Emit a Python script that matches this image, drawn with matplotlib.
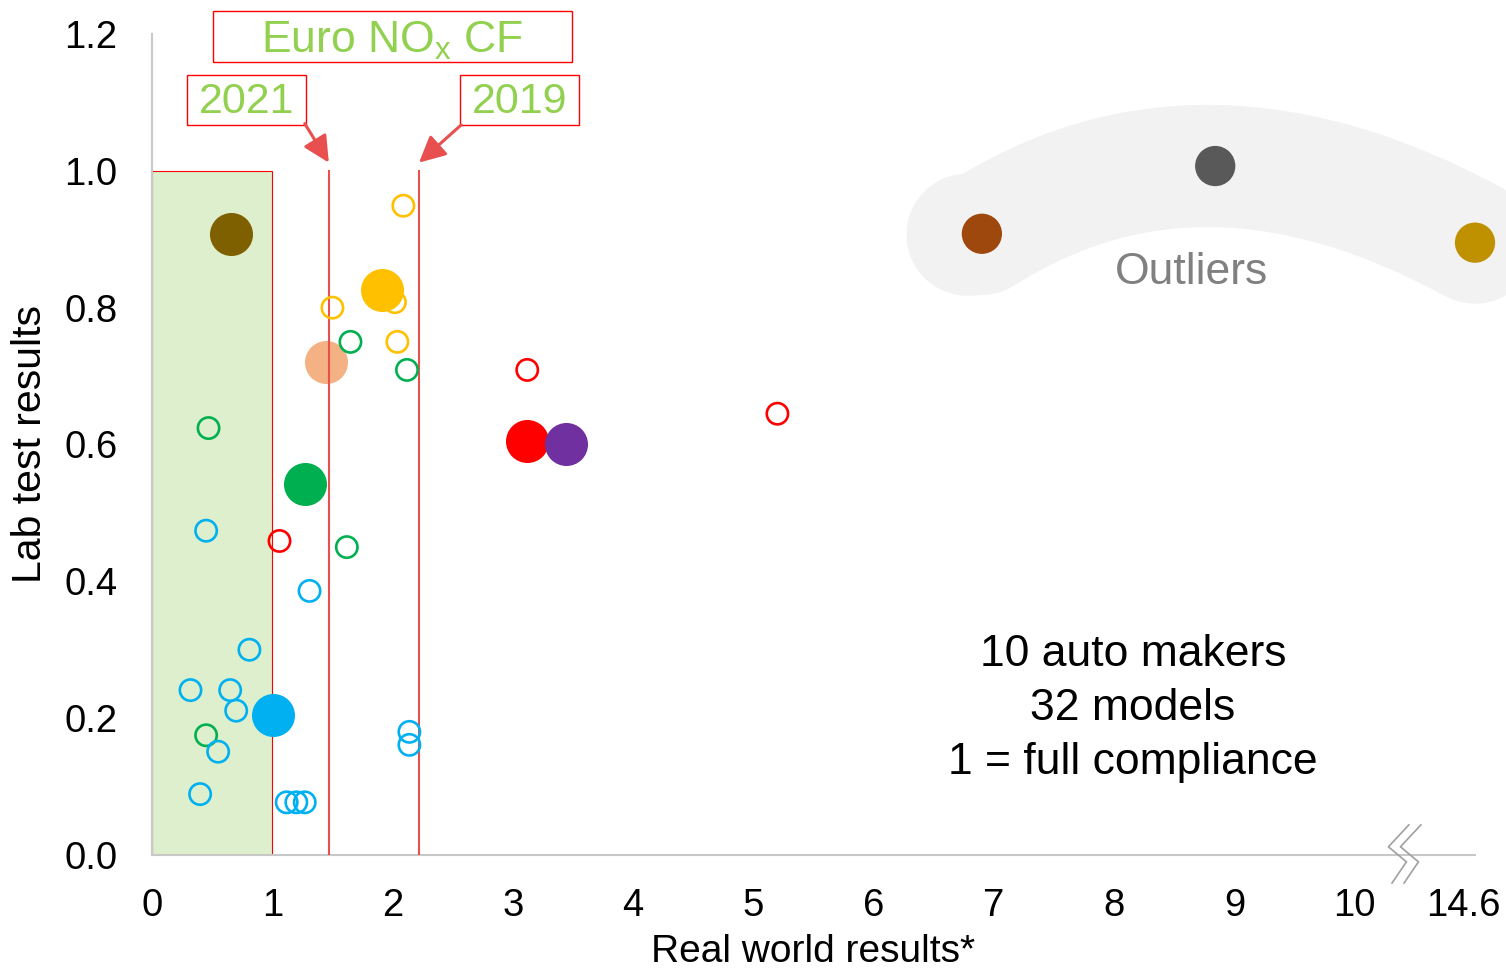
import matplotlib
matplotlib.use('Agg')
import matplotlib.pyplot as plt
from matplotlib.patches import Rectangle, PathPatch
from matplotlib.path import Path
import numpy as np

plt.rcParams['font.family'] = ['Liberation Sans', 'DejaVu Sans']
plt.rcParams['mathtext.fontset'] = 'custom'
plt.rcParams['mathtext.rm'] = 'Liberation Sans'

# ---- data (real world CF, lab test CF) ----
# big filled dots = auto maker averages
maker_x = [0.66, 1.91, 1.45, 1.27, 3.12, 3.44, 1.01]
maker_y = [0.908, 0.826, 0.721, 0.542, 0.605, 0.601, 0.205]
maker_colors = ['#7F6000', '#FFC000', '#F4B183', '#00B050', '#FF0000', '#7030A0', '#00B0F0']

# outliers (last one is 14.6, drawn at the broken axis end)
outlier_x = [6.9, 8.84, 11.0]
outlier_y = [0.908, 1.007, 0.895]
outlier_colors = ['#9E480E', '#595959', '#BF9000']

# small hollow dots = individual models
yellow_x = [2.09, 1.50, 2.02, 2.04]
yellow_y = [0.949, 0.800, 0.808, 0.750]
green_x = [1.65, 2.12, 0.47, 1.62, 0.45]
green_y = [0.750, 0.709, 0.624, 0.450, 0.175]
red_x = [1.06, 3.12, 5.20]
red_y = [0.459, 0.709, 0.645]
blue_x = [0.45, 1.31, 0.81, 0.32, 0.65, 0.70, 0.55, 0.40, 2.14, 2.14, 1.12, 1.20, 1.27]
blue_y = [0.474, 0.386, 0.300, 0.241, 0.241, 0.211, 0.151, 0.089, 0.180, 0.161, 0.077, 0.077, 0.077]

cf_2021 = 1.47
cf_2019 = 2.22
full_compliance = 1.0

x_ticks = [0, 1, 2, 3, 4, 5, 6, 7, 8, 9, 10, 10.9]
x_labels = ['0', '1', '2', '3', '4', '5', '6', '7', '8', '9', '10', '14.6']
y_ticks = [0.0, 0.2, 0.4, 0.6, 0.8, 1.0, 1.2]

fig = plt.figure(figsize=(15.06, 9.69), dpi=100)
ax = fig.add_axes([0.10093, 0.11765, 0.87849, 0.84727])
ax.set_xlim(0, 11.0)
ax.set_ylim(0, 1.2)

for s in ['top', 'right']:
    ax.spines[s].set_visible(False)
for s in ['left', 'bottom']:
    ax.spines[s].set_color('#C8C8C8')
    ax.spines[s].set_linewidth(1.5)

ax.set_xticks(x_ticks)
ax.set_xticklabels(x_labels)
ax.set_yticks(y_ticks)
ax.set_yticklabels([f'{v:.1f}' for v in y_ticks])
ax.tick_params(axis='both', length=0, labelsize=27.5)
ax.tick_params(axis='y', pad=25)
ax.tick_params(axis='x', pad=24)

ax.set_xlabel('Real world results*', fontsize=28)
ax.set_ylabel('Lab test results', fontsize=29.5)
ax.xaxis.set_label_coords(0.5, -0.096)
ax.yaxis.set_label_coords(-0.0775, 0.5)

# full compliance zone
ax.add_patch(Rectangle((0, 0), full_compliance, full_compliance, facecolor='#DDEFCD',
                       edgecolor='#FF0000', linewidth=0.8, zorder=1))

# outlier band through outlier points
p0 = np.array([outlier_x[0], outlier_y[0]])
pm = np.array([outlier_x[1], outlier_y[1]])
p2 = np.array([outlier_x[2], outlier_y[2]])
ctrl = 2 * pm - (p0 + p2) / 2
start = p0 - 0.12 * (ctrl - p0) / np.linalg.norm(ctrl - p0) * np.array([1, 0.1])
band = Path([start, p0, ctrl, p2], [Path.MOVETO, Path.LINETO, Path.CURVE3, Path.CURVE3])
ax.add_patch(PathPatch(band, facecolor='none', edgecolor='#F2F2F2', linewidth=88,
                       capstyle='round', joinstyle='round', clip_on=False, zorder=1))

# peach under the lines
ax.scatter(maker_x[2], maker_y[2], s=960, color=maker_colors[2], zorder=2, linewidths=0)

# CF lines
ax.plot([cf_2021, cf_2021], [0, 1.0], color='#E85050', lw=1.5, zorder=3)
ax.plot([cf_2019, cf_2019], [0, 1.0], color='#E85050', lw=1.5, zorder=3)

# hollow model dots
for xs, ys, c in [(yellow_x, yellow_y, '#FFC000'), (green_x, green_y, '#00B050'),
                  (red_x, red_y, '#FF0000'), (blue_x, blue_y, '#00B0F0')]:
    ax.scatter(xs, ys, s=235, facecolors='none', edgecolors=c, linewidths=1.9, zorder=4)

# maker dots
for i in range(len(maker_x)):
    if i == 2:
        continue
    ax.scatter(maker_x[i], maker_y[i], s=960, color=maker_colors[i], zorder=5, linewidths=0)

ax.scatter(outlier_x, outlier_y, s=840, c=outlier_colors, zorder=5, linewidths=0, clip_on=False)

# axis break mark
ax.plot([10.45, 10.28, 10.43, 10.31], [0.044, 0.012, -0.010, -0.041], color='#A0A0A0',
        lw=1.2, clip_on=False, zorder=6)
ax.plot([10.55, 10.38, 10.53, 10.41], [0.044, 0.012, -0.010, -0.041], color='#A0A0A0',
        lw=1.2, clip_on=False, zorder=6)

# Euro NOx CF boxes
box_kw = dict(facecolor='white', edgecolor='#FF0000', linewidth=1, clip_on=False, zorder=6)
ax.add_patch(Rectangle((0.507, 1.159), 2.983, 0.075, **box_kw))
ax.text(1.998, 1.19, r'Euro NO$_\mathrm{x}$ CF', color='#92D050', fontsize=32,
        ha='center', va='center', zorder=7, clip_on=False)

ax.add_patch(Rectangle((0.291, 1.067), 0.99, 0.073, **box_kw))
ax.text(0.785, 1.101, '2021', color='#92D050', fontsize=31, ha='center', va='center', zorder=7)
ax.add_patch(Rectangle((2.56, 1.067), 0.99, 0.073, **box_kw))
ax.text(3.055, 1.101, '2019', color='#92D050', fontsize=31, ha='center', va='center', zorder=7)

arrow_kw = dict(arrowstyle='-|>,head_length=0.8,head_width=0.4', color='#E85050', lw=2.2,
                mutation_scale=20, shrinkA=0, shrinkB=0)
ax.annotate('', xy=(cf_2021, 1.012), xytext=(1.27, 1.069), arrowprops=arrow_kw,
            annotation_clip=False, zorder=7)
ax.annotate('', xy=(cf_2019, 1.012), xytext=(2.57, 1.067), arrowprops=arrow_kw,
            annotation_clip=False, zorder=7)

ax.text(8.645, 0.852, 'Outliers', color='#808080', fontsize=32, ha='center', va='center', zorder=7)
ax.text(8.155, 0.214, '10 auto makers\n32 models\n1 = full compliance', fontsize=32,
        ha='center', va='center', linespacing=1.40, zorder=7)

fig.savefig('out.png', dpi=100)
